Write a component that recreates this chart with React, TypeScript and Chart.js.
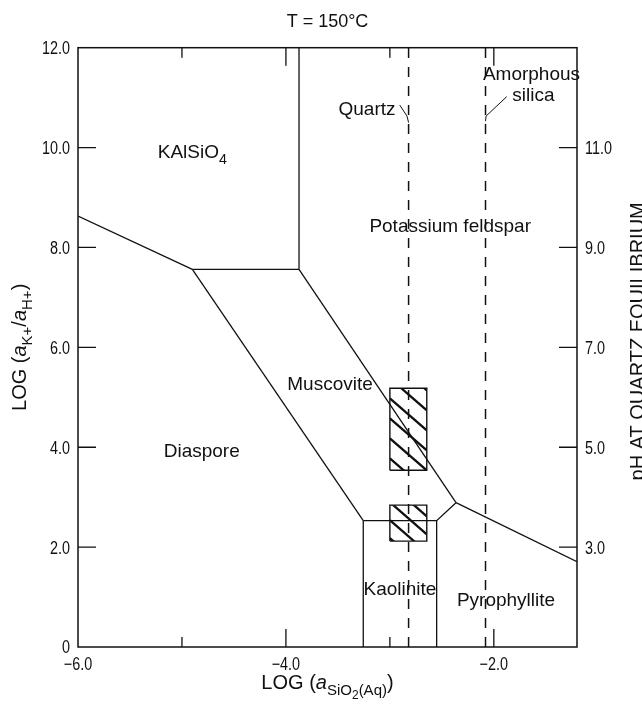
import React, { useEffect, useRef } from 'react';
import { Chart, registerables } from 'chart.js';

Chart.register(...registerables);

// ---------- data ----------
const titleText = 'T = 150°C';
const xTickValues = [-6, -5, -4, -3, -2];
const xTickLabels = ['−6.0', '', '−4.0', '', '−2.0'];
const yTickValues = [0, 2, 4, 6, 8, 10, 12];
const yTickLabels = ['0', '2.0', '4.0', '6.0', '8.0', '10.0', '12.0'];
const phTickValues = [3, 5, 7, 9, 11];
const phTickLabels = ['3.0', '5.0', '7.0', '9.0', '11.0'];

const kalsio4DiasporeBoundary = [[-6, 8.63], [-4.9, 7.56]];
const diasporeMuscoviteBoundary = [[-4.9, 7.56], [-3.256, 2.53]];
const muscoviteTopBoundary = [[-4.9, 7.56], [-3.874, 7.56]];
const kalsio4FeldsparBoundary = [[-3.874, 7.56], [-3.874, 12]];
const muscoviteFeldsparBoundary = [[-3.874, 7.56], [-2.364, 2.89]];
const kaoliniteTopBoundary = [[-3.256, 2.53], [-2.55, 2.53], [-2.364, 2.89]];
const pyrophylliteFeldsparBoundary = [[-2.364, 2.89], [-1.2, 1.71]];
const diasporeKaoliniteBoundary = [[-3.256, 2.53], [-3.256, 0]];
const kaolinitePyrophylliteBoundary = [[-2.55, 2.53], [-2.55, 0]];
const quartzSaturation = [[-2.82, 0], [-2.82, 12]];
const amorphousSilicaSaturation = [[-2.08, 0], [-2.08, 12]];
const quartzLeader = [[-2.905, 10.85], [-2.835, 10.63], [-2.82, 10.5]];
const amorphousLeader = [[-1.876, 11.02], [-2.075, 10.63], [-2.08, 10.53]];

const upperFieldBoxX = [-3.0, -2.645];
const upperFieldBoxY = [3.54, 5.18];
const lowerFieldBoxX = [-3.0, -2.645];
const lowerFieldBoxY = [2.12, 2.84];

const regionLabels = ['KAlSiO_4', 'Potassium feldspar', 'Muscovite', 'Diaspore', 'Kaolinite', 'Pyrophyllite', 'Quartz', 'Amorphous', 'silica'];
const regionLabelX = [-4.9, -2.42, -3.576, -4.81, -2.903, -1.883, -3.22, -1.638, -1.619];
const regionLabelY = [9.93, 8.45, 5.29, 3.94, 1.175, 0.96, 10.79, 11.49, 11.07];

const xTitle: [string, string][] = [['LOG (', 'n'], ['a', 'i'], ['SiO', 's'], ['2', 'ss'], ['(Aq)', 's'], [')', 'n']];
const yTitle: [string, string][] = [['LOG (', 'n'], ['a', 'i'], ['K+', 's'], ['/', 'n'], ['a', 'i'], ['H+', 's'], [')', 'n']];
const y2Title = 'pH AT QUARTZ EQUILIBRIUM';

// ---------- styles ----------
const INK = '#111111';
const FAMILY = "'Liberation Sans', Arial, Helvetica, sans-serif";
const LABEL_SIZE = 19;
const TICK_SIZE = 18;
const TICK_SQUEEZE = 0.8;

function segFont(style: string, size: number) {
  const s = style === 's' ? size * 0.75 : style === 'ss' ? size * 0.6 : size;
  return `${style === 'i' ? 'italic ' : ''}${s}px ${FAMILY}`;
}
function segDy(style: string, size: number) {
  return style === 's' ? size * 0.3 : style === 'ss' ? size * 0.5 : 0;
}
function drawRich(ctx: CanvasRenderingContext2D, segs: [string, string][], x: number, y: number, size: number) {
  ctx.textBaseline = 'alphabetic';
  ctx.textAlign = 'left';
  const widths = segs.map(([t, st]) => {
    ctx.font = segFont(st, size);
    return ctx.measureText(t).width;
  });
  const total = widths.reduce((a, b) => a + b, 0);
  let cx = x - total / 2;
  segs.forEach(([t, st], i) => {
    ctx.font = segFont(st, size);
    ctx.fillText(t, cx, y + segDy(st, size));
    cx += widths[i];
  });
}
function toSegs(label: string): [string, string][] {
  const parts = label.split('_');
  const segs: [string, string][] = [[parts[0], 'n']];
  if (parts.length > 1) segs.push([parts[1], 's']);
  return segs;
}
function condensedText(ctx: CanvasRenderingContext2D, text: string, x: number, y: number, align: CanvasTextAlign) {
  ctx.save();
  ctx.translate(x, y);
  ctx.scale(TICK_SQUEEZE, 1);
  ctx.font = `${TICK_SIZE}px ${FAMILY}`;
  ctx.textAlign = align;
  ctx.textBaseline = 'alphabetic';
  ctx.fillText(text, 0, 0);
  ctx.restore();
}

const pts = (arr: number[][]) => arr.map(([x, y]) => ({ x, y }));
const boxPts = (bx: number[], by: number[]) =>
  pts([[bx[0], by[0]], [bx[1], by[0]], [bx[1], by[1]], [bx[0], by[1]], [bx[0], by[0]]]);

const lineDs = (data: any[], width = 1.3, dash: number[] = []) => ({
  data,
  showLine: true,
  borderColor: INK,
  borderWidth: width,
  borderDash: dash,
  pointRadius: 0,
  pointHoverRadius: 0,
  fill: false,
  tension: 0,
});

function hatch(ctx: CanvasRenderingContext2D, x0: number, x1: number, yTop: number, yBot: number, spacing: number, offset: number) {
  const slope = 0.87;
  const w = x1 - x0;
  ctx.save();
  ctx.beginPath();
  ctx.rect(x0, yTop, w, yBot - yTop);
  ctx.clip();
  ctx.beginPath();
  let c = yTop + offset;
  while (c > yTop - slope * w) c -= spacing;
  for (; c < yBot; c += spacing) {
    ctx.moveTo(x0, c);
    ctx.lineTo(x1, c + slope * w);
  }
  ctx.strokeStyle = INK;
  ctx.lineWidth = 2.3;
  ctx.stroke();
  ctx.restore();
}

const decorPlugin = {
  id: 'decor',
  afterDatasetsDraw(chart: any) {
    const { ctx, scales } = chart;
    const X = (v: number) => scales.x.getPixelForValue(v);
    const Y = (v: number) => scales.y.getPixelForValue(v);
    hatch(ctx, X(upperFieldBoxX[0]), X(upperFieldBoxX[1]), Y(upperFieldBoxY[1]), Y(upperFieldBoxY[0]), 20, -10);
    hatch(ctx, X(lowerFieldBoxX[0]), X(lowerFieldBoxX[1]), Y(lowerFieldBoxY[1]), Y(lowerFieldBoxY[0]), 18, -3);
  },
  afterDraw(chart: any) {
    const { ctx, chartArea: a, scales } = chart;
    const X = (v: number) => scales.x.getPixelForValue(v);
    const Y = (v: number) => scales.y.getPixelForValue(v);
    const Y2 = (v: number) => scales.y2.getPixelForValue(v);
    ctx.save();
    ctx.strokeStyle = INK;
    ctx.lineWidth = 1.5;
    ctx.strokeRect(a.left, a.top, a.right - a.left, a.bottom - a.top);
    ctx.lineWidth = 1.3;
    ctx.beginPath();
    xTickValues.forEach((v, i) => {
      if (v === -6) return;
      const px = X(v);
      const len = xTickLabels[i] ? 18 : 10;
      ctx.moveTo(px, a.bottom);
      ctx.lineTo(px, a.bottom - len);
      ctx.moveTo(px, a.top);
      ctx.lineTo(px, a.top + len);
    });
    yTickValues.forEach((v) => {
      if (v === 0 || v === 12) return;
      const py = Y(v);
      ctx.moveTo(a.left, py);
      ctx.lineTo(a.left + 18, py);
    });
    phTickValues.forEach((v) => {
      const py = Y2(v);
      ctx.moveTo(a.right, py);
      ctx.lineTo(a.right - 18, py);
    });
    ctx.stroke();

    ctx.fillStyle = INK;
    const capHalf = TICK_SIZE * 0.36;
    // tick labels (condensed like the original)
    xTickValues.forEach((v, i) => {
      if (xTickLabels[i]) condensedText(ctx, xTickLabels[i], X(v), a.bottom + 17 + capHalf, 'center');
    });
    yTickValues.forEach((v, i) => {
      condensedText(ctx, yTickLabels[i], a.left - 8, Y(v) + capHalf, 'right');
    });
    phTickValues.forEach((v, i) => {
      condensedText(ctx, phTickLabels[i], a.right + 8, Y2(v) + capHalf, 'left');
    });

    // title
    ctx.font = `18px ${FAMILY}`;
    ctx.textAlign = 'center';
    ctx.textBaseline = 'alphabetic';
    ctx.fillText(titleText, (a.left + a.right) / 2, 27);

    // region labels
    regionLabels.forEach((lab, i) => {
      drawRich(ctx, toSegs(lab), X(regionLabelX[i]), Y(regionLabelY[i]) + LABEL_SIZE * 0.36, LABEL_SIZE);
    });

    // x title
    drawRich(ctx, xTitle, (a.left + a.right) / 2, 689, 20);

    // y title
    const cy = (a.top + a.bottom) / 2;
    ctx.save();
    ctx.translate(25.5, cy);
    ctx.rotate(-Math.PI / 2);
    drawRich(ctx, yTitle, 0, 0, 20);
    ctx.restore();

    // right title
    ctx.save();
    ctx.translate(644, cy - 6);
    ctx.rotate(-Math.PI / 2);
    ctx.font = `20px ${FAMILY}`;
    ctx.textAlign = 'center';
    ctx.textBaseline = 'alphabetic';
    ctx.fillText(y2Title, 0, 0);
    ctx.restore();

    ctx.restore();
  },
};

const hiddenTicks = { display: false };
const noGrid = { display: false, drawTicks: false, tickLength: 0 };

export default function App() {
  const ref = useRef<HTMLCanvasElement | null>(null);
  useEffect(() => {
    if (!ref.current) return;
    const chart = new Chart(ref.current, {
      type: 'scatter',
      data: {
        datasets: [
          lineDs(pts(kalsio4DiasporeBoundary)),
          lineDs(pts(diasporeMuscoviteBoundary)),
          lineDs(pts(muscoviteTopBoundary)),
          lineDs(pts(kalsio4FeldsparBoundary)),
          lineDs(pts(muscoviteFeldsparBoundary)),
          lineDs(pts(kaoliniteTopBoundary)),
          lineDs(pts(pyrophylliteFeldsparBoundary)),
          lineDs(pts(diasporeKaoliniteBoundary)),
          lineDs(pts(kaolinitePyrophylliteBoundary)),
          lineDs(pts(quartzSaturation), 1.5, [10, 9]),
          lineDs(pts(amorphousSilicaSaturation), 1.5, [10, 9]),
          lineDs(pts(quartzLeader), 1),
          lineDs(pts(amorphousLeader), 1),
          lineDs(boxPts(upperFieldBoxX, upperFieldBoxY), 1.4),
          lineDs(boxPts(lowerFieldBoxX, lowerFieldBoxY), 1.4),
        ] as any,
      },
      options: {
        responsive: false,
        animation: false,
        devicePixelRatio: 1,
        layout: { padding: { top: 47.7, left: 0, right: 0, bottom: 0 } },
        plugins: { legend: { display: false }, tooltip: { enabled: false }, title: { display: false } },
        events: [],
        scales: {
          x: {
            type: 'linear',
            position: 'bottom',
            min: -6,
            max: -1.2,
            afterBuildTicks: (s: any) => { s.ticks = xTickValues.map((value) => ({ value })); },
            afterFit: (s: any) => { s.height = 63; },
            ticks: hiddenTicks,
            grid: noGrid,
            border: { display: false },
          },
          y: {
            type: 'linear',
            position: 'left',
            min: 0,
            max: 12,
            afterBuildTicks: (s: any) => { s.ticks = yTickValues.map((value) => ({ value })); },
            afterFit: (s: any) => { s.width = 78; },
            ticks: hiddenTicks,
            grid: noGrid,
            border: { display: false },
          },
          y2: {
            type: 'linear',
            position: 'right',
            min: 1,
            max: 13,
            afterBuildTicks: (s: any) => { s.ticks = phTickValues.map((value) => ({ value })); },
            afterFit: (s: any) => { s.width = 65; },
            ticks: hiddenTicks,
            grid: noGrid,
            border: { display: false },
          },
        },
      } as any,
      plugins: [decorPlugin],
    });
    return () => chart.destroy();
  }, []);
  return (
    <div style={{ position: 'absolute', left: 0, top: 0, width: 642, height: 710, background: '#fff' }}>
      <canvas ref={ref} width={642} height={710} style={{ display: 'block', width: 642, height: 710 }} />
    </div>
  );
}
